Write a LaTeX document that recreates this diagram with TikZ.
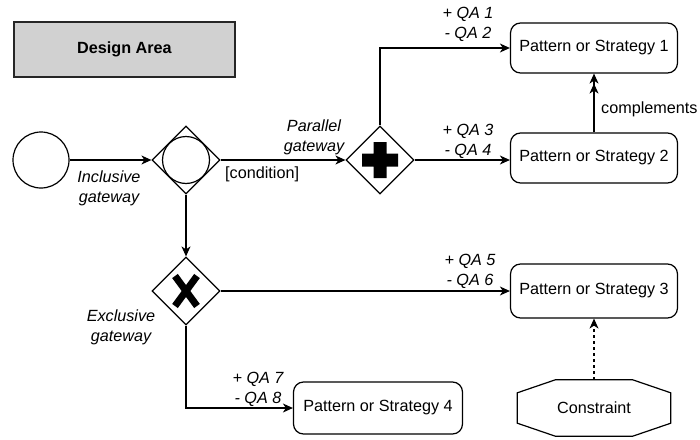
\documentclass[tikz,border=0pt]{standalone}
\usepackage{fontspec}
\setmainfont{Liberation Sans}
\usetikzlibrary{shapes.geometric,arrows.meta}
\newcommand\fsz{\fontsize{16.2}{19.5}\selectfont}
\tikzset{
  ln/.style={line width=1.2pt},
  pbox/.style={draw, ln, rounded corners=10pt, minimum width=167pt, minimum height=50pt, font=\fsz, inner sep=0pt},
  gw/.style={draw, ln, diamond, aspect=1, minimum width=68pt, minimum height=68pt, inner sep=0pt},
  lbl/.style={font=\fsz\itshape, align=center, inner sep=0pt, anchor=base},
  plain/.style={font=\fsz, inner sep=0pt, anchor=base},
  conn/.style={ln, -{Stealth[length=10pt,width=9pt,inset=3pt]}},
}
\begin{document}
\begin{tikzpicture}[x=1pt,y=-1pt]
\useasboundingbox (0,0) rectangle (700,439);
% design area
\node[draw=black!85, ln, fill=black!18, minimum width=221pt, minimum height=55pt, font=\fsz\bfseries] (design) at (124.5,49.5) {Design Area};
% start event
\node[draw, ln, circle, minimum size=56pt, inner sep=0pt] (start) at (41,160) {};
% gateways
\node[gw] (incl) at (186,160) {};
\node[draw, ln, circle, minimum size=47pt, inner sep=0pt] (inclc) at (incl.center) {};
\node[gw] (par) at (380,160) {};
\fill (par.center) ++(-18,-6.5) -- ++(11.5,0) -- ++(0,-11.5) -- ++(13,0) -- ++(0,11.5) -- ++(11.5,0) -- ++(0,13) -- ++(-11.5,0) -- ++(0,11.5) -- ++(-13,0) -- ++(0,-11.5) -- ++(-11.5,0) -- cycle;
\node[gw] (excl) at (186,291) {};
\draw[line width=7pt] ([shift={(-11,-15)}]excl.center) -- ([shift={(11,15)}]excl.center);
\draw[line width=7pt] ([shift={(11,-15)}]excl.center) -- ([shift={(-11,15)}]excl.center);
% pattern boxes
\node[pbox] (p1) at (594,48) {Pattern or Strategy 1};
\node[pbox] (p2) at (594,158) {Pattern or Strategy 2};
\node[pbox, minimum height=54pt] (p3) at (594,291) {Pattern or Strategy 3};
\node[pbox, minimum width=169pt, minimum height=52pt] (p4) at (378,408) {Pattern or Strategy 4};
% constraint
\node[font=\fsz, minimum width=153pt, minimum height=56pt, inner sep=0pt] (cons) at (594,408) {Constraint};
\draw[ln] ([xshift=38pt]cons.north west) -- ([xshift=-38pt]cons.north east) -- ([yshift=-13pt]cons.north east) -- ([yshift=13pt]cons.south east) -- ([xshift=-38pt]cons.south east) -- ([xshift=38pt]cons.south west) -- ([yshift=13pt]cons.south west) -- ([yshift=-13pt]cons.north west) -- cycle;
% connectors
\draw[conn] (start) -- (incl.west);
\draw[conn] (incl.east) -- (par.west);
\draw[conn] (par.north) |- (p1.west);
\draw[conn] (par.east) -- (par.east -| p2.west);
\draw[ln, -{Stealth[length=10pt,width=9pt,inset=3pt]Stealth[length=10pt,width=9pt,inset=3pt]}] (p2.north) -- (p1.south);
\draw[conn] (incl.south) -- (excl.north);
\draw[conn] (excl.east) -- (p3.west);
\draw[conn] (excl.south) |- (p4.west);
\draw[conn, dashed] (cons.north) -- (p3.south);
% labels
\node[lbl] (lincl) at (109,202) {Inclusive\\gateway};
\node[lbl] (lpar) at (314,151) {Parallel\\gateway};
\node[lbl] (lexcl) at (121,341) {Exclusive\\gateway};
\node[plain, anchor=base west] (lcond) at (225,178) {[condition]};
\node[plain, anchor=base west] (lcomp) at (601,113) {complements};
\node[lbl] (qa12) at (468,38) {+ QA 1\\- QA 2};
\node[lbl] (qa34) at (468,155) {+ QA 3\\- QA 4};
\node[lbl] (qa56) at (470,285) {+ QA 5\\- QA 6};
\node[lbl] (qa78) at (258,403) {+ QA 7\\- QA 8};
\end{tikzpicture}
\end{document}
